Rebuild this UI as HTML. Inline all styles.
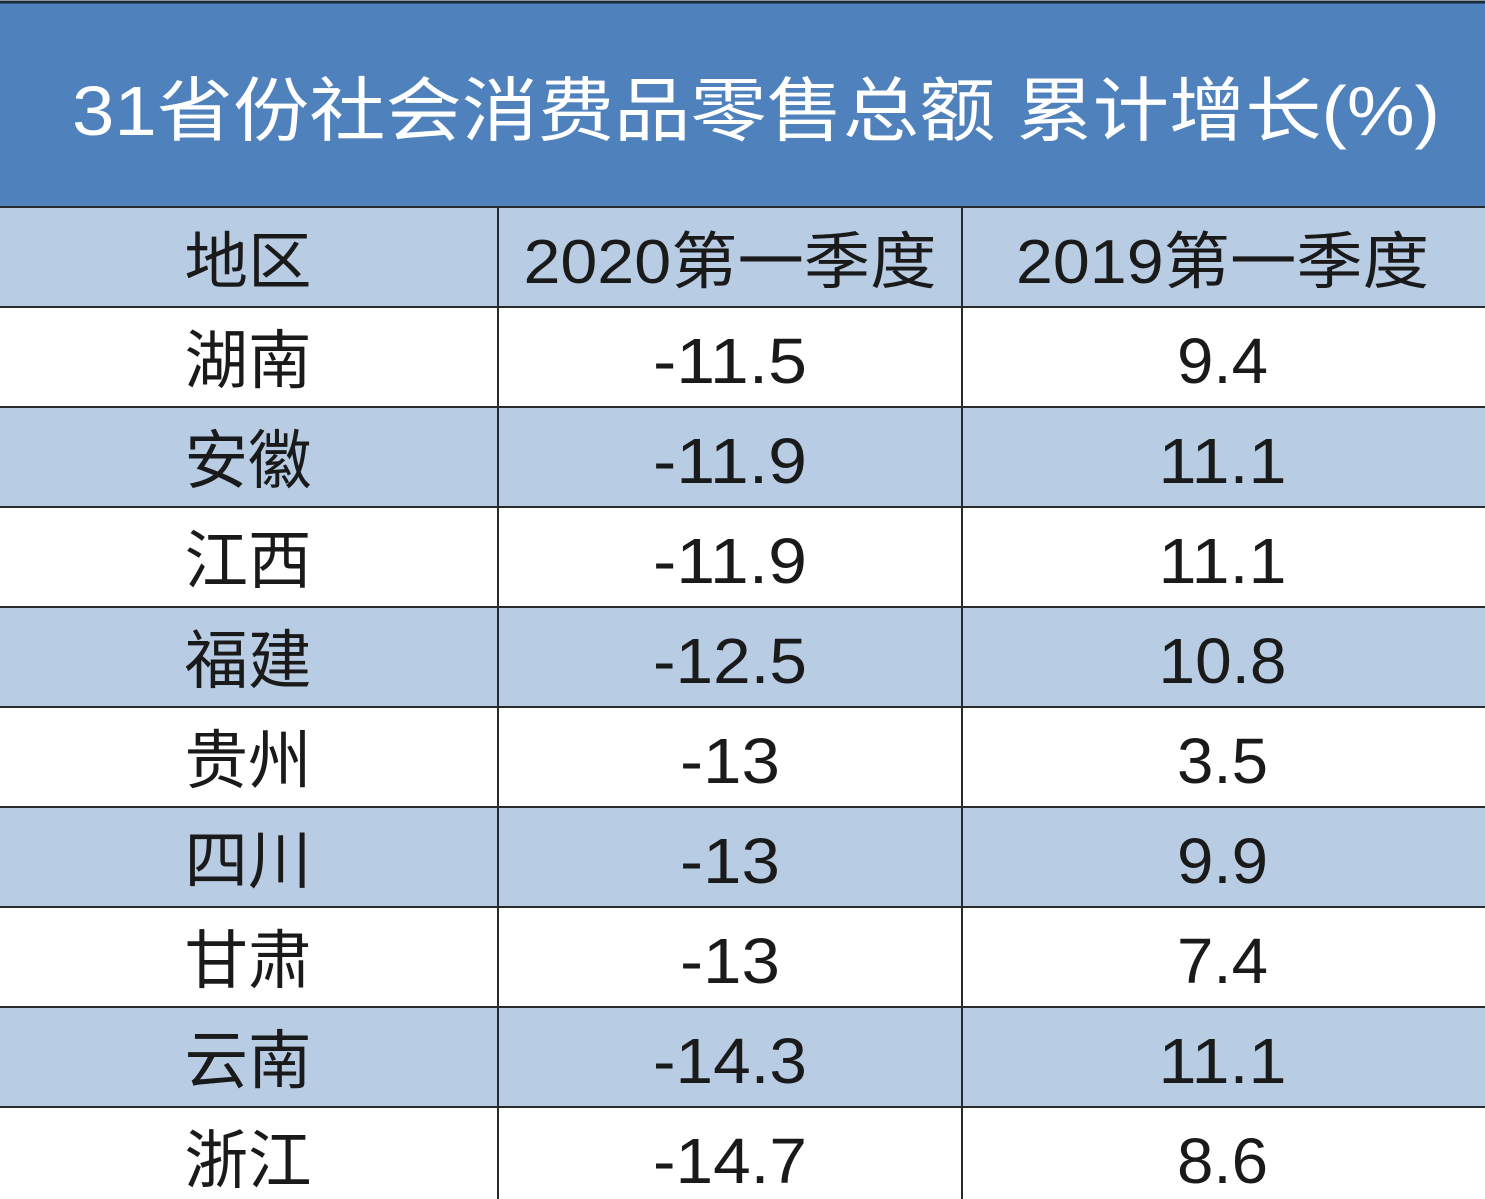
<!DOCTYPE html>
<html><head><meta charset="utf-8">
<style>
html,body{margin:0;padding:0;background:#fff;}
svg{display:block;}
text{font-family:"Liberation Sans","Noto Sans CJK SC",sans-serif;}
</style></head>
<body>
<svg id="tbl" width="1485" height="1199" viewBox="0 0 1485 1199" xmlns="http://www.w3.org/2000/svg">
  <rect x="0" y="2" width="1485" height="206" fill="#4f81bd"/>
  <line x1="0" y1="2" x2="1485" y2="2" stroke="#1a2a3a" stroke-width="3"/>
  <text x="72" y="135" font-size="70" fill="#ffffff" textLength="1368" lengthAdjust="spacingAndGlyphs">31省份社会消费品零售总额 累计增长(%)</text>
  <g id="body"></g>
</svg>
<script>
const headers = ["地区", "2020第一季度", "2019第一季度"];
const regions = ["湖南","安徽","江西","福建","贵州","四川","甘肃","云南","浙江"];
const q1_2020 = ["-11.5","-11.9","-11.9","-12.5","-13","-13","-13","-14.3","-14.7"];
const q1_2019 = ["9.4","11.1","11.1","10.8","3.5","9.9","7.4","11.1","8.6"];

const NS = "http://www.w3.org/2000/svg";
const g = document.getElementById("body");
const colX = [0, 498, 962, 1485];
const rowY = i => 207 + i * 100;
function w(s){let t=0;for(const c of s){if(/[0-9]/.test(c))t+=37;else if(c==='.')t+=17;else if(c==='-')t+=26;else t+=63.5;}return t;}
function mk(tag, attrs){const e=document.createElementNS(NS,tag);for(const k in attrs)e.setAttribute(k,attrs[k]);g.appendChild(e);return e;}
const nRows = regions.length + 1;
for (let r = 0; r < nRows; r++) {
  const y = rowY(r);
  const rect = mk("rect",{x:0,y:y,width:1485,height:100,fill:(r%2===0)?"#b8cce4":"#ffffff"});
  
  
  const cells = r===0 ? headers : [regions[r-1], q1_2020[r-1], q1_2019[r-1]];
  for (let c = 0; c < 3; c++) {
    const cx = (colX[c] + colX[c+1]) / 2 - (c===0 ? 1 : (c===2 ? 1 : 0));
    const len = (r===0 && c>0) ? 413 : w(cells[c]);
    const t = mk("text",{x:cx,y:y+76,"text-anchor":"middle","font-size":r===0?62:64,fill:"#1a1a1a",textLength:len,lengthAdjust:"spacingAndGlyphs"});
    t.textContent = cells[c];
    
    
  }
}
for (let r = 0; r <= nRows; r++) {
  const l = mk("line",{x1:0,y1:rowY(r),x2:1485,y2:rowY(r),stroke:"#2a2a2a","stroke-width":2});
  
  
}
for (const x of [498, 962]) {
  const l = mk("line",{x1:x,y1:207,x2:x,y2:1199,stroke:"#2a2a2a","stroke-width":2});
  
  
}
</script>
</body></html>
